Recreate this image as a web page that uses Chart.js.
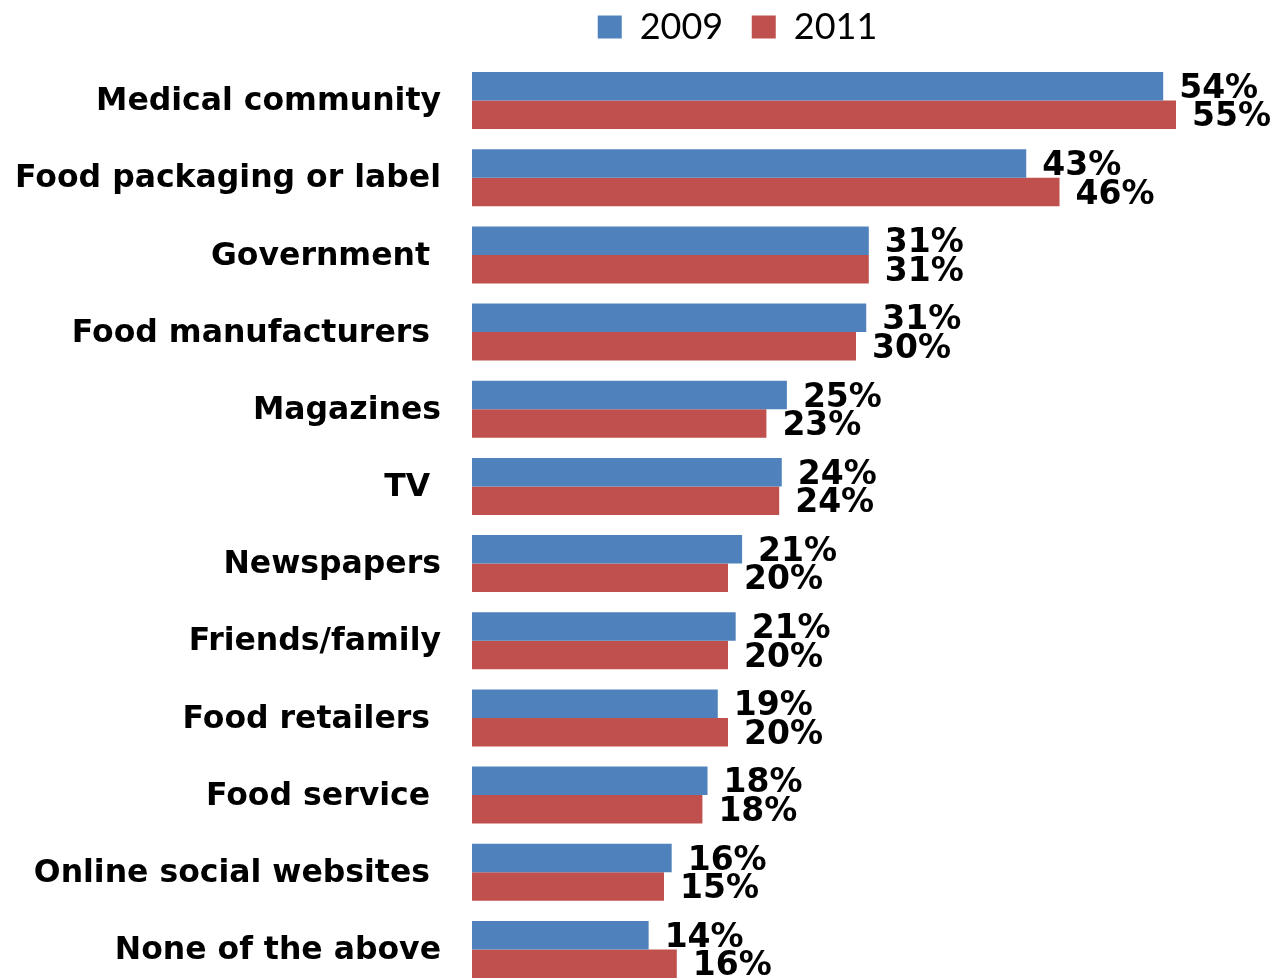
<!DOCTYPE html>
<html>
<head>
<meta charset="utf-8">
<script src="https://cdn.jsdelivr.net/npm/chart.js@4.4.1/dist/chart.umd.min.js"></script>
<style>
  html, body { margin: 0; padding: 0; background: #ffffff; overflow: hidden; }
  #wrap { position: relative; width: 1277px; height: 988px; }
</style>
</head>
<body>
<div id="wrap"><canvas id="chart"></canvas></div>
<script>
const categories = [
  "Medical community",
  "Food packaging or label",
  "Government ",
  "Food manufacturers ",
  "Magazines",
  "TV ",
  "Newspapers",
  "Friends/family",
  "Food retailers ",
  "Food service ",
  "Online social websites ",
  "None of the above"
];
const seriesNames = ["2009", "2011"];
const values2009 = [54.0, 43.3, 31.0, 30.8, 24.6, 24.2, 21.1, 20.6, 19.2, 18.4, 15.6, 13.8];
const values2011 = [55.0, 45.9, 31.0, 30.0, 23.0, 24.0, 20.0, 20.0, 20.0, 18.0, 15.0, 16.0];
const seriesColors = ["#4F81BD", "#C0504D"];

const LABEL_FONT = "DejaVu Sans";

const legendPlace = {
  id: "legendPlace",
  beforeLayout(chart) {
    const lg = chart.legend;
    if (lg && !lg._patched) {
      const fit = lg.fit;
      lg.fit = function () { fit.call(this); this.height = 62; };
      lg._patched = true;
    }
  },
  afterLayout(chart) {
    const lg = chart.legend;
    if (!lg) return;
    lg.top = -19.5;
    lg.bottom = lg.top + 62;
    lg.left = 99;
    lg.right = lg.left + chart.width;
  }
};

const valueLabels = {
  id: "valueLabels",
  afterDatasetsDraw(chart) {
    const ctx = chart.ctx;
    ctx.save();
    ctx.font = "bold 33px '" + LABEL_FONT + "'";
    ctx.fillStyle = "#000000";
    ctx.textAlign = "left";
    ctx.textBaseline = "middle";
    chart.data.datasets.forEach((ds, i) => {
      chart.getDatasetMeta(i).data.forEach((bar, j) => {
        ctx.fillText(Math.round(ds.data[j]) + "%", bar.x + 16, bar.y + 3);
      });
    });
    ctx.restore();
  }
};

new Chart(document.getElementById("chart"), {
  type: "bar",
  data: {
    labels: categories,
    datasets: [
      { label: seriesNames[0], data: values2009, backgroundColor: seriesColors[0], borderWidth: 0 },
      { label: seriesNames[1], data: values2011, backgroundColor: seriesColors[1], borderWidth: 0 }
    ]
  },
  options: {
    indexAxis: "y",
    responsive: true,
    maintainAspectRatio: false,
    animation: false,
    layout: { padding: { left: 0, right: 37, top: 0, bottom: 0 } },
    datasets: { bar: { categoryPercentage: 0.7386, barPercentage: 1.0 } },
    scales: {
      x: { display: false, min: 0, max: 60 },
      y: {
        grid: { display: false, drawTicks: false },
        border: { display: false },
        ticks: {
          autoSkip: false,
          padding: 31,
          labelOffset: 1.5,
          color: "#000000",
          font: { family: LABEL_FONT, weight: "bold", size: 31.5 }
        },
        afterFit(scale) {
          scale.width = 472;
          scale.paddingTop = 0;
          scale.paddingBottom = 0;
        }
      }
    },
    plugins: {
      legend: {
        display: true,
        position: "top",
        align: "center",
        labels: {
          boxWidth: 24,
          boxHeight: 23,
          padding: 28.5,
          color: "#000000",
          font: { family: "Lato", size: 36, weight: "normal" }
        }
      },
      tooltip: { enabled: false }
    }
  },
  plugins: [legendPlace, valueLabels]
});
</script>
</body>
</html>
